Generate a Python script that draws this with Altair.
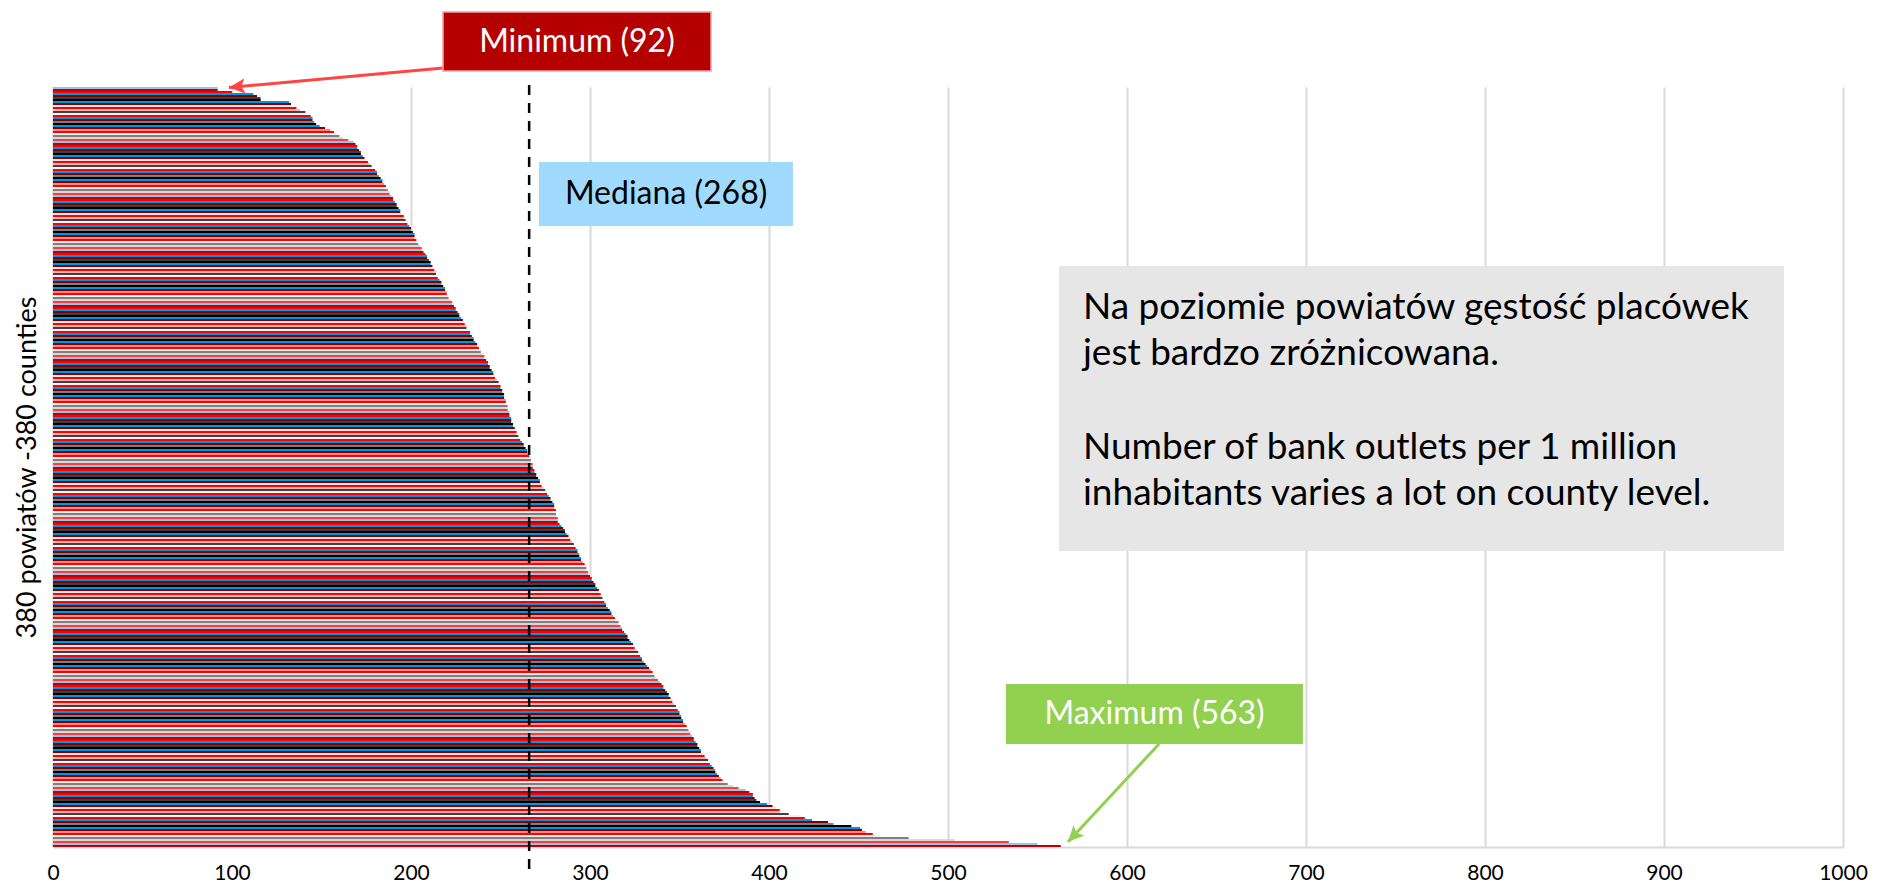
import altair as alt
import pandas as pd

# Number of bank outlets per 1 million inhabitants, 380 counties, sorted ascending
outlets_per_million = [
    92, 92, 100, 112, 114, 116, 116, 132, 133, 133,
    136, 138, 141, 143, 144, 145, 145, 146, 147, 149,
    152, 155, 157, 159, 160, 162, 165, 168, 169, 170,
    170,
    171, 172, 172, 173, 174, 175, 176, 177, 178, 179, 180, 181, 181, 182,
    183,
    184, 184, 185, 186, 186, 187, 188, 188, 189, 190, 190, 191, 192, 192,
    193,
    194, 194, 195, 196, 196, 197, 198, 198, 199, 200, 200, 201, 202, 202, 202,
    203,
    204, 204, 205, 206, 206, 207, 208, 209, 209, 210, 211, 211, 212, 212,
    213,
    214, 214, 215, 215, 216, 217, 217, 218, 219, 219, 220, 220, 221, 221,
    222,
    223, 223, 224, 225, 225, 226, 227, 227, 228, 229, 229, 230, 231, 231,
    232,
    233, 233, 234, 235, 235, 236, 237, 237, 238, 239, 239, 240, 241, 241,
    242,
    243, 243, 244, 244, 245, 246, 246, 247, 247, 248, 249, 249, 250, 250,
    251,
    251, 252, 252, 252, 253, 253, 253, 254, 254, 254, 255, 255, 255, 256, 256,
    256,
    257, 257, 258, 258, 259, 259,
    260,
    261, 261, 262, 263, 263, 264, 265, 265,
    266,
    266, 267, 267, 267, 268, 268, 268, 269,
    269,
    270, 270, 271, 272, 272, 273, 273,
    274,
    275, 276, 276, 277, 278, 278, 279,
    280,
    280, 280, 281, 281, 281, 281, 282, 282,
    282,
    283, 284, 285, 286, 286, 287,
    288,
    289, 289, 290, 291, 291, 292,
    293,
    293, 294, 294, 295, 295,
    296,
    297, 297, 298, 298, 299, 299,
    300,
    301, 301, 302, 303, 303, 304,
    305,
    305, 306, 306, 307, 307,
    308,
    309, 309, 310, 311, 312, 312, 313, 314,
    315,
    316, 316, 317, 318, 318, 319, 320, 321, 321, 322,
    323, 324, 324, 325, 326, 327, 327, 328, 329, 329,
    330,
    331, 332, 333, 334, 335, 336, 336, 337, 338, 339, 340, 341, 341, 342,
    343,
    344, 344, 345, 346, 346, 347, 348, 348, 349, 350, 350, 351, 351, 352, 352,
    353,
    354, 354, 355, 356, 356, 357, 358, 358, 359, 360, 360, 361, 362, 362,
    363,
    364, 365, 366, 366, 367, 368, 369, 370, 370, 371, 372, 373, 374, 375, 377,
    380, 383, 387, 389, 391, 391, 392, 393, 395, 399,
    402, 404, 406, 406, 411, 418, 420, 424, 433, 436,
    446, 451, 452, 454, 458, 462, 478, 504, 534, 550,
    563,
]

x_ticks = [0, 100, 200, 300, 400, 500, 600, 700, 800, 900, 1000]
y_title = "380 powiatów -380 counties"
label_min = "Minimum (92)"
label_max = "Maximum (563)"
label_median = "Mediana (268)"
note_lines = [
    "Na poziomie powiatów gęstość placówek",
    "jest bardzo zróżnicowana.",
    "Number of bank outlets per 1 million",
    "inhabitants varies a lot on county level.",
]
median_line_x = 266

# colour cycle, counted from the bottom bar upwards (Excel "vary colours by point" look)
CYCLE = ["#C00000", "#9DC3E6", "#FF3B3B", "#D9D9D9", "#7F7F7F", "#F2F2F2",
         "#FF0000", "#FF8080", "#800000", "#0096E6", "#000000", "#7F7F7F",
         "#800000", "#0096E6", "#FF0000", "#F2F2F2", "#404040", "#FFB3B3",
         "#FF0000", "#E6E6E6", "#800000", "#0096E6", "#000000", "#404040",
         "#800000", "#0096E6", "#FF0000"]

n = len(outlets_per_million)
df = pd.DataFrame({
    "rank": list(range(1, n + 1)),
    "value": outlets_per_million,
})
df["color"] = [CYCLE[(n - r) % len(CYCLE)] for r in df["rank"]]

FONT = "Lato"
one = pd.DataFrame({"a": [0]})

xscale = alt.Scale(domain=[0, 1000], nice=False)

bars = alt.Chart(df).mark_bar().encode(
    x=alt.X("value:Q", scale=xscale,
            axis=alt.Axis(values=x_ticks, format="d", grid=True, gridColor="#D9D9D9", gridWidth=2,
                          domainColor="#D9D9D9", domainWidth=2, ticks=False,
                          labelFontSize=21, labelPadding=15, labelColor="#000000",
                          labelFont=FONT, labelFlush=False, title=None)),
    y=alt.Y("rank:O", scale=alt.Scale(paddingInner=0, paddingOuter=0),
            axis=alt.Axis(labels=False, ticks=False, domainColor="#D9D9D9", domainWidth=2,
                          title=y_title, titleFont=FONT, titleFontSize=27,
                          titleFontWeight="normal", titleColor="#000000",
                          titleX=-26, titleY=380, titleAngle=270,
                          titleBaseline="middle", titleAlign="center")),
    color=alt.Color("color:N", scale=None, legend=None),
)

median_rule = alt.Chart(one).mark_rule(color="#000000", strokeWidth=2.5, strokeDash=[10, 8]).encode(
    x=alt.datum(median_line_x), y=alt.value(-2), y2=alt.value(785)
)


def box(x1, x2, y1, y2, fill, stroke=None):
    kw = dict(fill=fill)
    if stroke:
        kw.update(stroke=stroke, strokeWidth=1.5)
    return alt.Chart(one).mark_rect(**kw).encode(
        x=alt.datum(x1), x2=alt.datum(x2), y=alt.value(y1), y2=alt.value(y2)
    )


def label(text, x, y, color, size, align="center"):
    return alt.Chart(one).mark_text(text=text, font=FONT, fontSize=size, color=color,
                                    align=align, baseline="middle").encode(
        x=alt.datum(x), y=alt.value(y)
    )


ARROW = "M0,0L-0.47,1L0,0.78L0.47,1Z"


def arrow(x1, y1, x2, y2, color, angle):
    line = alt.Chart(one).mark_rule(color=color, strokeWidth=3).encode(
        x=alt.datum(x1), x2=alt.datum(x2), y=alt.value(y1), y2=alt.value(y2)
    )
    head = alt.Chart(one).mark_point(shape=ARROW, filled=True, fill=color, strokeWidth=0,
                                     size=1024, angle=angle, opacity=1).encode(
        x=alt.datum(x2), y=alt.value(y2)
    )
    return line + head


min_arrow = arrow(217.9, -19, 98.3, 0.5, "#FF4444", 265)
max_arrow = arrow(617.9, 657, 567.0, 755, "#92D050", 223.5)

min_box = box(217.9, 367.6, -75, -16, "#B50000", "#F4A0A0")
min_text = label(label_min, 292.7, -45, "#FFFFFF", 32)

max_box = box(532.4, 698.3, 597, 657, "#92D050")
max_text = label(label_max, 615.4, 627, "#FFFFFF", 32)

med_box = box(271.5, 413.4, 75, 139, "#A0DAFF")
med_text = label(label_median, 342.5, 107, "#000000", 32)

note_box = box(562, 967, 179, 464, "#E7E6E6")
note_ys = [221, 267, 361, 407]
note_texts = [label(t, 575.4, yy, "#000000", 37, align="left") for t, yy in zip(note_lines, note_ys)]

chart = alt.layer(
    bars, median_rule, min_arrow, max_arrow,
    min_box, min_text, max_box, max_text, med_box, med_text, note_box, *note_texts
).properties(
    width=1790, height=760,
    padding={"left": 45, "top": 79, "right": 26, "bottom": 37},
    autosize=alt.AutoSizeParams(type="none"),
).configure_view(stroke=None)

chart.save("out.html", embed_options={"renderer": "svg", "actions": False})
